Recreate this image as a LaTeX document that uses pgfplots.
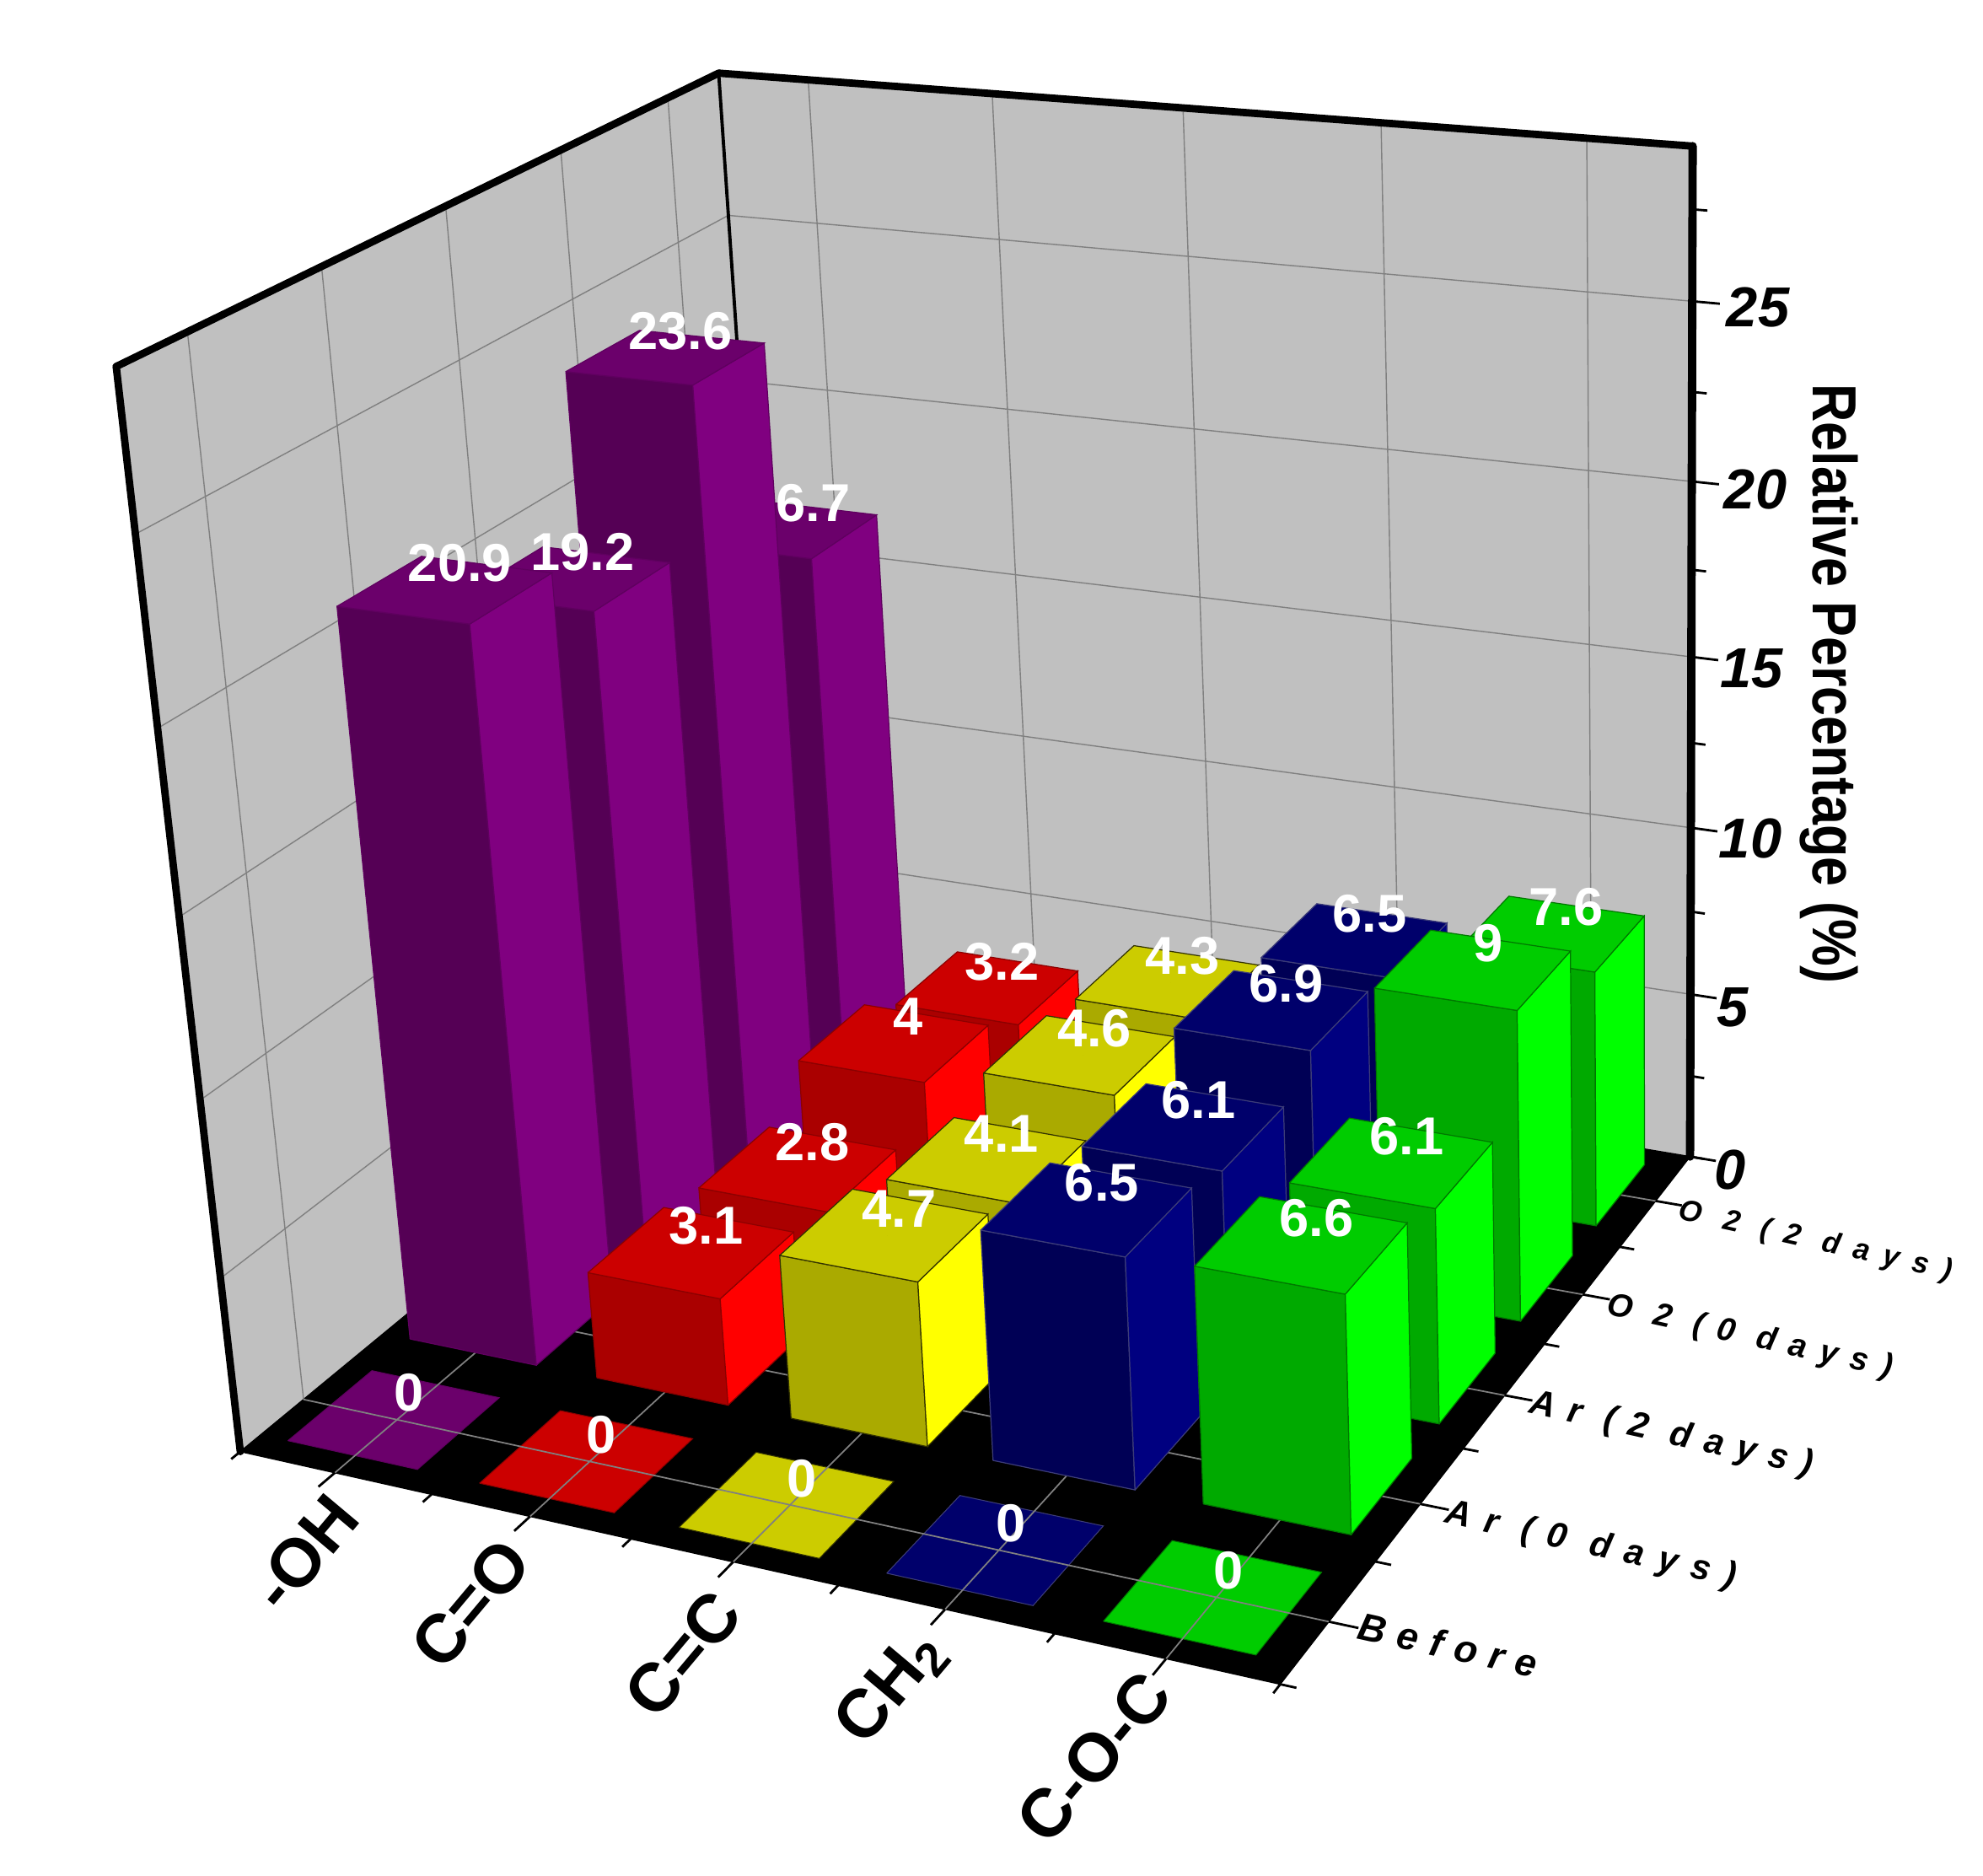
\documentclass[border=0pt]{standalone}
\usepackage{fontspec}
\setmainfont{Liberation Sans}
\usepackage{pgfplots}
\pgfplotsset{compat=1.18}
\definecolor{purF}{RGB}{85,0,85}\definecolor{purS}{RGB}{128,0,128}\definecolor{purT}{RGB}{107,0,107}\definecolor{purE}{RGB}{95,0,95}
\definecolor{redF}{RGB}{170,0,0}\definecolor{redS}{RGB}{255,0,0}\definecolor{redT}{RGB}{204,0,0}\definecolor{redE}{RGB}{140,0,0}
\definecolor{yelF}{RGB}{170,170,0}\definecolor{yelS}{RGB}{255,255,0}\definecolor{yelT}{RGB}{204,204,0}\definecolor{yelE}{RGB}{50,50,0}
\definecolor{bluF}{RGB}{0,0,85}\definecolor{bluS}{RGB}{0,0,128}\definecolor{bluT}{RGB}{0,0,107}\definecolor{bluE}{RGB}{60,60,120}
\definecolor{greF}{RGB}{0,170,0}\definecolor{greS}{RGB}{0,255,0}\definecolor{greT}{RGB}{0,204,0}\definecolor{greE}{RGB}{0,120,0}
\definecolor{wall}{RGB}{192,192,192}
\def\bw{0.34}
% face of a bar: the table holds the corners of a unit box
\newcommand\XE[3]{PX(#1+.485+\bw*\thisrow{a},#2+.5+\bw*\thisrow{b},#3*\thisrow{c})}
\newcommand\YE[3]{PY(#1+.485+\bw*\thisrow{a},#2+.5+\bw*\thisrow{b},#3*\thisrow{c})}
\newcommand\dobarnolabel[4]{%
\addplot[fill=#4F,draw=#4E,line width=.35pt] table[row sep=\\,x expr={\XE{#1}{#2}{#3}},y expr={\YE{#1}{#2}{#3}}]{a b c\\-1 -1 0\\1 -1 0\\1 -1 1\\-1 -1 1\\-1 -1 0\\};
\addplot[fill=#4S,draw=#4E,line width=.35pt] table[row sep=\\,x expr={\XE{#1}{#2}{#3}},y expr={\YE{#1}{#2}{#3}}]{a b c\\1 -1 0\\1 1 0\\1 1 1\\1 -1 1\\1 -1 0\\};
\addplot[fill=#4T,draw=#4E,line width=.35pt] table[row sep=\\,x expr={\XE{#1}{#2}{#3}},y expr={\YE{#1}{#2}{#3}}]{a b c\\-1 -1 1\\1 -1 1\\1 1 1\\-1 1 1\\-1 -1 1\\};}
\newcommand\dobar[5]{\dobarnolabel{#1}{#2}{#3}{#4}\dolabel{#1}{#2}{#3}{#5}}
\newcommand\dolabel[4]{%
\addplot[only marks,mark=*,mark size=0pt,draw=none,fill=none,nodes near coords={#4},
 nodes near coords style={anchor=center,text=white,font=\fontsize{18}{18}\selectfont\bfseries,xshift=4pt,yshift=9pt,inner sep=0pt}]
 table[row sep=\\,x expr={PX(#1+.5,#2+.5,#3)},y expr={PY(#1+.5,#2+.5,#3)}]{a\\0\\};}
\newcommand\doflat[2]{%
\addplot[fill=#2T,draw=#2E,line width=.3pt] table[row sep=\\,x expr={\XE{#1}{0}{0}},y expr={\YE{#1}{0}{0}}]{a b c\\-1 -1 0\\1 -1 0\\1 1 0\\-1 1 0\\-1 -1 0\\};}
% a straight line between two points of the box (category, series, percentage)
\newcommand\pl[7][gray]{%
\addplot[#1] table[row sep=\\,x expr={PX(\thisrow{a},\thisrow{b},\thisrow{c})},y expr={PY(\thisrow{a},\thisrow{b},\thisrow{c})}]{a b c\\#2 #3 #4\\#5 #6 #7\\};}
\begin{document}
\begin{tikzpicture}
\path (0,0) rectangle (23.52,22.24);
\begin{axis}[at={(0,0)},anchor=south west,scale only axis,width=23.52cm,height=22.24cm,
 xmin=0,xmax=1568,ymin=0,ymax=1483,y dir=reverse,axis lines=none,clip=false,
 declare function={
  PW(\a,\b,\c)=1-0.01972*\a+0.038*\b-0.002757*\c;
  PX(\a,\b,\c)=(190+144.5*\a+109.2*\b-3.613*\c)/PW(\a,\b,\c);
  PY(\a,\b,\c)=(1148+10.53*\a-40.47*\b-30.188*\c)/PW(\a,\b,\c);
 }]
% walls and floor
\addplot[fill=wall,draw=none] table[row sep=\\,x expr={PX(\thisrow{a},\thisrow{b},\thisrow{c})},y expr={PY(\thisrow{a},\thisrow{b},\thisrow{c})}]{a b c\\0 0 0\\0 5 0\\0 5 29.2\\0 0 29.2\\0 0 0\\};
\addplot[fill=wall,draw=none] table[row sep=\\,x expr={PX(\thisrow{a},\thisrow{b},\thisrow{c})},y expr={PY(\thisrow{a},\thisrow{b},\thisrow{c})}]{a b c\\0 5 0\\5 5 0\\5 5 29.2\\0 5 29.2\\0 5 0\\};
\addplot[fill=black,draw=black] table[row sep=\\,x expr={PX(\thisrow{a},\thisrow{b},\thisrow{c})},y expr={PY(\thisrow{a},\thisrow{b},\thisrow{c})}]{a b c\\0 0 0\\5 0 0\\5 5 0\\0 5 0\\0 0 0\\};
% flat bars of the Before series
\doflat{0}{pur}\doflat{1}{red}\doflat{2}{yel}\doflat{3}{blu}\doflat{4}{gre}
% grid
\pgfplotsforeachungrouped \q in {0.5,1.5,2.5,3.5,4.5}{
 \edef\tmp{\noexpand\pl[draw=gray,line width=.4pt]{\q}{5}{0}{\q}{5}{29.2}
           \noexpand\pl[draw=gray,line width=.4pt]{0}{\q}{0}{0}{\q}{29.2}
           \noexpand\pl[draw=gray,line width=.5pt]{\q}{0}{0}{\q}{5}{0}
           \noexpand\pl[draw=gray,line width=.5pt]{0}{\q}{0}{5}{\q}{0}
           \noexpand\pl[draw=black,line width=.8pt]{\q}{0}{0}{\q}{-.13}{0}
           \noexpand\pl[draw=black,line width=.8pt]{5}{\q}{0}{5.13}{\q}{0}}\tmp}
\pgfplotsforeachungrouped \q in {0,1,2,3,4,5}{
 \edef\tmp{\noexpand\pl[draw=black,line width=.8pt]{\q}{0}{0}{\q}{-.07}{0}
           \noexpand\pl[draw=black,line width=.8pt]{5}{\q}{0}{5.07}{\q}{0}}\tmp}
\pgfplotsforeachungrouped \q in {5,10,15,20,25}{
 \edef\tmp{\noexpand\pl[draw=gray,line width=.4pt]{0}{5}{\q}{5}{5}{\q}
           \noexpand\pl[draw=gray,line width=.4pt]{0}{0}{\q}{0}{5}{\q}
           \noexpand\pl[draw=black,line width=.8pt]{5}{5}{\q}{5.13}{5}{\q}}\tmp}
\pgfplotsforeachungrouped \q in {2.5,7.5,12.5,17.5,22.5,27.5}{
 \edef\tmp{\noexpand\pl[draw=black,line width=.8pt]{5}{5}{\q}{5.07}{5}{\q}}\tmp}
\pl[draw=black,line width=.8pt]{5}{5}{0}{5.13}{5}{0}
% frame
\pl[draw=black,line width=1.1pt]{0}{5}{0}{0}{5}{29.2}
\pl[draw=black,line width=2.5pt,line cap=round]{0}{0}{0}{0}{0}{29.2}
\pl[draw=black,line width=2.5pt,line cap=round]{0}{0}{29.2}{0}{5}{29.2}
\pl[draw=black,line width=2.5pt,line cap=round]{0}{5}{29.2}{5}{5}{29.2}
\pl[draw=black,line width=2.8pt,line cap=round]{5}{5}{29.2}{5}{5}{0}
% bars, back row first; the 16.7 label goes under the 23.6 bar, which hides its first digit
\dobarnolabel{0}{4}{16.7}{pur}
\addplot[draw=none] table[row sep=\\,x expr={PX(\thisrow{a},\thisrow{b},\thisrow{c})},y expr={PY(\thisrow{a},\thisrow{b},\thisrow{c})}]{a b c\\0.5 4.5 16.7\\0.51 4.5 16.7\\}
 node[pos=0,anchor=center,text=white,font=\fontsize{18}{18}\selectfont\bfseries,xshift=4pt,yshift=9pt,inner sep=0pt]{16.7};
\dobar{1}{4}{3.2}{red}{3.2}\dobar{2}{4}{4.3}{yel}{4.3}\dobar{3}{4}{6.5}{blu}{6.5}\dobar{4}{4}{7.6}{gre}{7.6}
\dobar{0}{3}{23.6}{pur}{23.6}\dobar{1}{3}{4}{red}{4}\dobar{2}{3}{4.6}{yel}{4.6}\dobar{3}{3}{6.9}{blu}{6.9}\dobar{4}{3}{9}{gre}{9}
\dobar{0}{2}{19.2}{pur}{19.2}\dobar{1}{2}{2.8}{red}{2.8}\dobar{2}{2}{4.1}{yel}{4.1}\dobar{3}{2}{6.1}{blu}{6.1}\dobar{4}{2}{6.1}{gre}{6.1}
\dobar{0}{1}{20.9}{pur}{20.9}\dobar{1}{1}{3.1}{red}{3.1}\dobar{2}{1}{4.7}{yel}{4.7}\dobar{3}{1}{6.5}{blu}{6.5}\dobar{4}{1}{6.6}{gre}{6.6}
\dolabel{0}{0}{0}{0}\dolabel{1}{0}{0}{0}\dolabel{2}{0}{0}{0}\dolabel{3}{0}{0}{0}\dolabel{4}{0}{0}{0}
% value axis
\tikzset{zl/.style={font=\fontsize{19}{19}\selectfont\bfseries\itshape,inner sep=0pt}}
\node[zl] at (axis cs:1390,243) {25};
\node[zl] at (axis cs:1388,387) {20};
\node[zl] at (axis cs:1385,529) {15};
\node[zl] at (axis cs:1384,663) {10};
\node[zl] at (axis cs:1370,797) {5};
\node[zl] at (axis cs:1368,925) {0};
\node[rotate=-90,inner sep=0pt] at (axis cs:1446,541) {\scalebox{.85}[1]{\fontsize{21}{21}\selectfont\bfseries Relative Percentage (\%)}};
% category labels
\tikzset{cl/.style={rotate=50,font=\fontsize{23}{23}\selectfont\bfseries,inner sep=0pt}}
\node[cl] at (axis cs:241,1228) {-OH};
\node[cl] at (axis cs:372,1268) {C=O};
\node[cl] at (axis cs:540,1308) {C=C};
\node[cl] at (axis cs:705,1335) {CH\textsubscript{2}};
\node[cl] at (axis cs:865,1390) {C-O-C};
% series labels
\tikzset{sl/.style={rotate=-12.5,anchor=base west,inner sep=0pt}}
\newcommand\sfont[2]{\fontsize{#1}{#1}\selectfont\bfseries\itshape\addfontfeature{LetterSpace=#2}}
\node[sl] at (axis cs:1072,1296) {\sfont{13}{31}Before};
\node[sl] at (axis cs:1141,1204) {\sfont{12}{40}Ar (0 days)};
\node[sl] at (axis cs:1208,1117) {\sfont{12}{37}Ar (2 days)};
\node[sl] at (axis cs:1269,1039) {\sfont{11}{41}O 2 (0 days)};
\node[sl] at (axis cs:1326,964) {\sfont{10}{47}O 2 (2 days)};
\end{axis}
\end{tikzpicture}
\end{document}
